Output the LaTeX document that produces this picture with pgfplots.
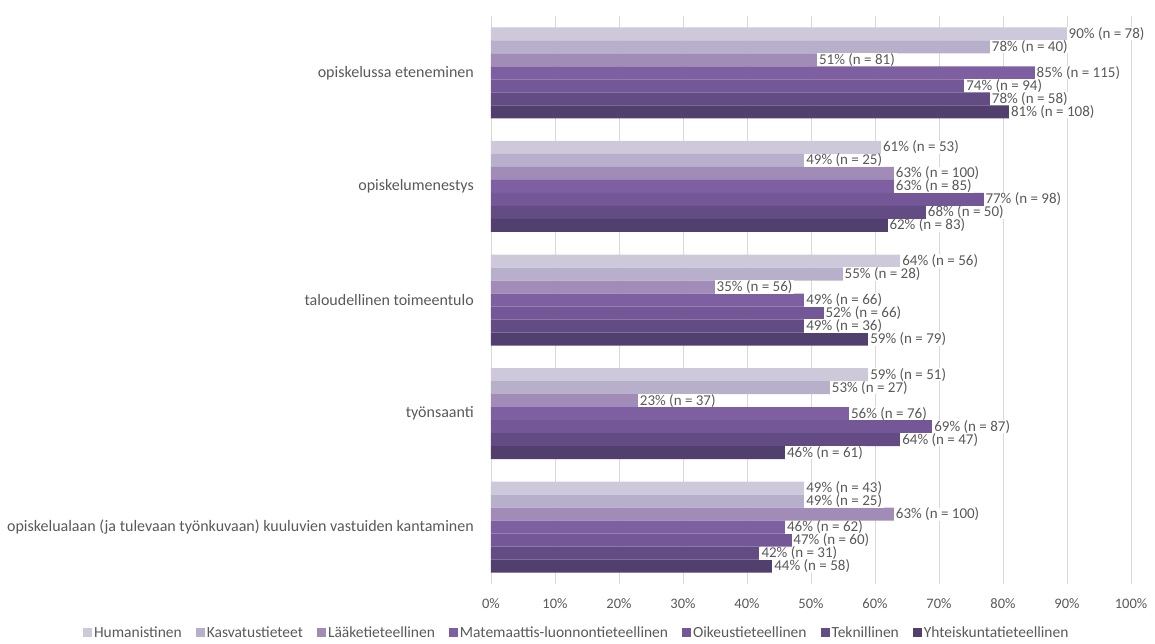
\documentclass[border=0pt]{standalone}
\usepackage{pgfplots}
\pgfplotsset{compat=1.18}
\usepackage{pgfplotstable}
\usepackage{fontspec}
\setmainfont{Carlito}
\definecolor{c1}{HTML}{CDC8DA}
\definecolor{c2}{HTML}{B8AFCB}
\definecolor{c3}{HTML}{A08CB6}
\definecolor{c4}{HTML}{7E60A2}
\definecolor{c5}{HTML}{735796}
\definecolor{c6}{HTML}{634C84}
\definecolor{c7}{HTML}{513F6E}
\definecolor{txt}{HTML}{595959}
\definecolor{grd}{HTML}{D9D9D9}

% cat: 4 = top category, 0 = bottom category
\pgfplotstableread{
cat val n
4 90 78
3 61 53
2 64 56
1 59 51
0 49 43
}\sA
\pgfplotstableread{
cat val n
4 78 40
3 49 25
2 55 28
1 53 27
0 49 25
}\sB
\pgfplotstableread{
cat val n
4 51 81
3 63 100
2 35 56
1 23 37
0 63 100
}\sC
\pgfplotstableread{
cat val n
4 85 115
3 63 85
2 49 66
1 56 76
0 46 62
}\sD
\pgfplotstableread{
cat val n
4 74 94
3 77 98
2 52 66
1 69 87
0 47 60
}\sE
\pgfplotstableread{
cat val n
4 78 58
3 68 50
2 49 36
1 64 47
0 42 31
}\sF
\pgfplotstableread{
cat val n
4 81 108
3 62 83
2 59 79
1 46 61
0 44 58
}\sG

\begin{document}
\begin{tikzpicture}
\useasboundingbox (-491pt,-59pt) rectangle (664pt,584pt);
\begin{axis}[
  at={(0,0)}, anchor=south west,
  scale only axis,
  width=640pt, height=568pt,
  xbar=0pt, bar width=13pt,
  xmin=0, xmax=100,
  ymin=-0.5, ymax=4.5,
  ytick={0,1,2,3,4},
  yticklabels={opiskelualaan (ja tulevaan työnkuvaan) kuuluvien vastuiden kantaminen, työnsaanti, taloudellinen toimeentulo, opiskelumenestys, opiskelussa eteneminen},
  xtick={0,10,...,100},
  xticklabel={\pgfmathprintnumber{\tick}\%},
  /pgf/number format/assume math mode=true,
  major tick length=0pt,
  axis line style={draw=none},
  xmajorgrids, major grid style={grd, line width=0.8pt},
  tick label style={text=txt, font=\fontsize{14.5}{16}\selectfont},
  yticklabel style={font=\fontsize{16}{18}\selectfont, inner sep=0pt, xshift=-17pt},
  xticklabel style={inner sep=0pt, yshift=-14pt},
  clip=false,
  point meta=x,
  visualization depends on={\thisrow{n} \as \nval},
  nodes near coords={\pgfmathprintnumber{\pgfplotspointmeta}\% (n = \pgfmathprintnumber{\nval})},
  every node near coord/.append style={anchor=west, fill=white, text=txt, inner xsep=2pt, inner ysep=0pt, xshift=-0.5pt, font=\fontsize{15}{15}\selectfont},
  legend columns=7,
  legend style={at={(0.134,-0.067)}, anchor=north, draw=none, fill=none, text=txt, font=\fontsize{15.5}{17}\selectfont, /tikz/every even column/.append style={column sep=12pt}},
  legend image code/.code={\fill[#1] (0pt,-4.5pt) rectangle (9pt,4.5pt);},
]
\addplot[fill=c1, draw=none, bar shift=39pt] table[x=val,y=cat]{\sA};
\addplot[fill=c2, draw=none, bar shift=26pt] table[x=val,y=cat]{\sB};
\addplot[fill=c3, draw=none, bar shift=13pt] table[x=val,y=cat]{\sC};
\addplot[fill=c4, draw=none, bar shift=0pt] table[x=val,y=cat]{\sD};
\addplot[fill=c5, draw=none, bar shift=-13pt] table[x=val,y=cat]{\sE};
\addplot[fill=c6, draw=none, bar shift=-26pt] table[x=val,y=cat]{\sF};
\addplot[fill=c7, draw=none, bar shift=-39pt] table[x=val,y=cat]{\sG};
\legend{Humanistinen, Kasvatustieteet, Lääketieteellinen, Matemaattis-luonnontieteellinen, Oikeustieteellinen, Teknillinen, Yhteiskuntatieteellinen}
\end{axis}
\end{tikzpicture}
\end{document}
